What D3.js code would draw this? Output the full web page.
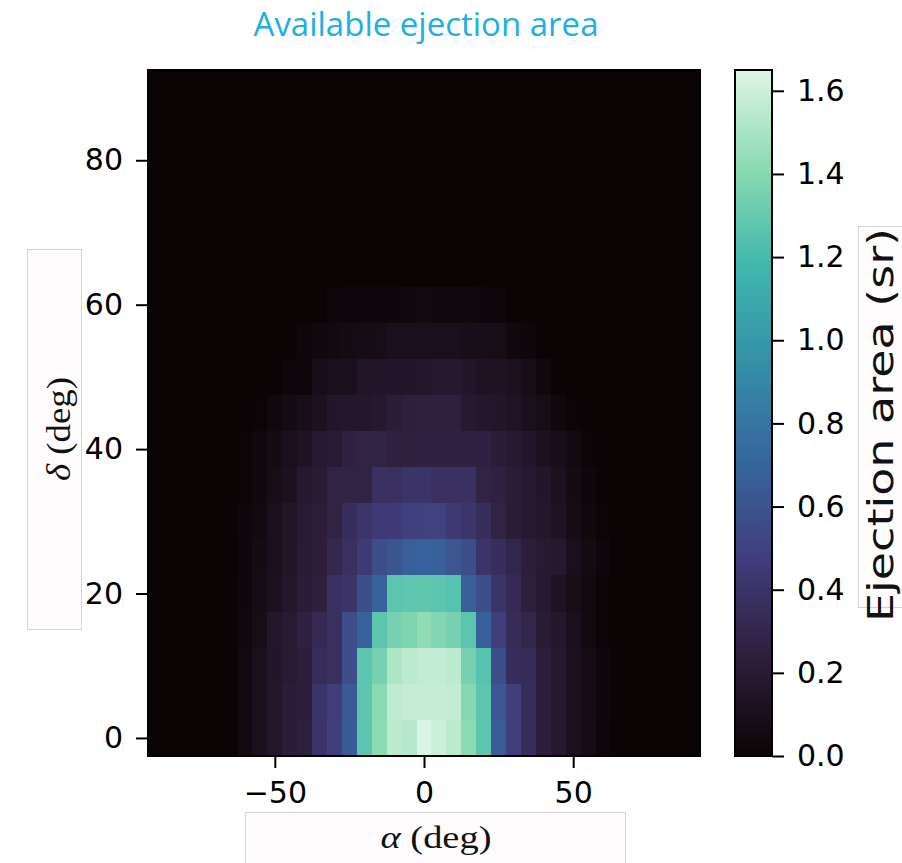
<!DOCTYPE html>
<html>
<head>
<meta charset="utf-8">
<script src="https://d3js.org/d3.v7.min.js"></script>
<style>
  body { margin: 0; background: #ffffff; }
</style>
</head>
<body>
<script>
// Available ejection area as a heatmap over alpha (x) and delta (y)

var alphaDeg = [-90, -85, -80, -75, -70, -65, -60, -55, -50, -45, -40, -35, -30, -25, -20, -15, -10, -5, 0,
                5, 10, 15, 20, 25, 30, 35, 40, 45, 50, 55, 60, 65, 70, 75, 80, 85, 90];
var deltaDeg = [0, 5, 10, 15, 20, 25, 30, 35, 40, 45, 50, 55, 60, 65, 70, 75, 80, 85, 90];

// ejection area (sr), one array per delta row, one value per alpha column
var area0  = [0,0,0,0,0,0,0.05,0.10,0.17,0.22,0.24,0.40,0.48,0.65,1.27,1.42,1.55,1.54,1.64,1.60,1.55,1.42,1.27,0.66,0.48,0.35,0.23,0.18,0.12,0.07,0.02,0,0,0,0,0,0];
var area5  = [0,0,0,0,0,0,0.05,0.10,0.17,0.22,0.23,0.40,0.47,0.64,1.27,1.41,1.56,1.58,1.58,1.58,1.57,1.40,1.27,0.62,0.48,0.35,0.23,0.18,0.12,0.07,0.03,0,0,0,0,0,0];
var area10 = [0,0,0,0,0,0,0.05,0.10,0.16,0.20,0.23,0.35,0.37,0.57,1.27,1.35,1.51,1.55,1.57,1.57,1.55,1.35,1.25,0.58,0.36,0.34,0.23,0.18,0.12,0.07,0.03,0,0,0,0,0,0];
var area15 = [0,0,0,0,0,0,0.04,0.08,0.17,0.20,0.26,0.33,0.37,0.57,0.69,1.27,1.35,1.38,1.43,1.39,1.35,1.27,0.68,0.48,0.34,0.30,0.21,0.17,0.10,0.05,0.01,0,0,0,0,0,0];
var area20 = [0,0,0,0,0,0,0.03,0.07,0.12,0.17,0.22,0.24,0.38,0.40,0.57,0.69,1.27,1.28,1.28,1.27,1.25,0.67,0.57,0.40,0.33,0.24,0.19,0.13,0.08,0.05,0.01,0,0,0,0,0,0];
var area25 = [0,0,0,0,0,0,0.02,0.06,0.10,0.15,0.21,0.23,0.31,0.37,0.45,0.57,0.61,0.67,0.69,0.68,0.62,0.57,0.40,0.36,0.30,0.23,0.20,0.18,0.10,0.06,0.02,0,0,0,0,0,0];
var area30 = [0,0,0,0,0,0,0.03,0.05,0.10,0.15,0.20,0.23,0.27,0.36,0.41,0.45,0.46,0.49,0.50,0.50,0.44,0.41,0.36,0.27,0.22,0.19,0.17,0.13,0.07,0.04,0.01,0,0,0,0,0,0];
var area35 = [0,0,0,0,0,0,0.01,0.04,0.08,0.12,0.18,0.21,0.27,0.27,0.27,0.38,0.37,0.40,0.40,0.38,0.38,0.38,0.27,0.26,0.22,0.19,0.16,0.12,0.06,0.03,0,0,0,0,0,0,0];
var area40 = [0,0,0,0,0,0,0.01,0.04,0.06,0.10,0.13,0.19,0.20,0.26,0.27,0.27,0.25,0.25,0.26,0.26,0.26,0.26,0.26,0.22,0.19,0.16,0.12,0.09,0.05,0.01,0,0,0,0,0,0,0];
var area45 = [0,0,0,0,0,0,0,0.01,0.04,0.06,0.09,0.12,0.16,0.17,0.17,0.18,0.22,0.24,0.25,0.25,0.25,0.19,0.17,0.16,0.14,0.10,0.08,0.04,0.01,0,0,0,0,0,0,0,0];
var area50 = [0,0,0,0,0,0,0,0,0,0.02,0.02,0.09,0.10,0.10,0.15,0.15,0.16,0.16,0.17,0.18,0.18,0.16,0.13,0.13,0.12,0.08,0.04,0,0,0,0,0,0,0,0,0,0];
var area55 = [0,0,0,0,0,0,0,0,0,0,0.02,0.04,0.05,0.06,0.07,0.08,0.10,0.10,0.10,0.10,0.10,0.09,0.09,0.08,0.04,0.03,0,0,0,0,0,0,0,0,0,0,0];
var area60 = [0,0,0,0,0,0,0,0,0,0,0,0,0.02,0.03,0.03,0.03,0.03,0.04,0.05,0.04,0.04,0.04,0.03,0.02,0,0,0,0,0,0,0,0,0,0,0,0,0];
var emptyRow = [0,0,0,0,0,0,0,0,0,0,0,0,0,0,0,0,0,0,0,0,0,0,0,0,0,0,0,0,0,0,0,0,0,0,0,0,0];

var areaRows = [area0, area5, area10, area15, area20, area25, area30, area35, area40, area45, area50,
                area55, area60, emptyRow, emptyRow, emptyRow, emptyRow, emptyRow, emptyRow];

var alphaTicks = [-50, 0, 50];
var deltaTicks = [0, 20, 40, 60, 80];
var colourTicks = [0, 0.2, 0.4, 0.6, 0.8, 1.0, 1.2, 1.4, 1.6];
var colourMax = 1.65;

// layout
var width = 902, height = 863;
var plot = {left: 148, right: 700, top: 70, bottom: 756};
var bar = {left: 735, right: 772};
var tickFont = "DejaVu Sans";

var svg = d3.select("body")
            .append("svg")
            .attr("width", width)
            .attr("height", height);

// mako colour map
var makoStops = [0, 1/7, 2/7, 3/7, 4/7, 5/7, 6/7, 1];
var makoColours = ["#0b0405", "#2e1e3b", "#413d7b", "#37659e", "#348fa7", "#40b7ad", "#8bdab2", "#def5e5"];
var colour = d3.scaleLinear()
               .domain(makoStops.map(s => s * colourMax))
               .range(makoColours)
               .interpolate(d3.interpolateRgb)
               .clamp(true);

var xScale = d3.scaleLinear().domain([-92.5, 92.5]).range([plot.left, plot.right]);
var yScale = d3.scaleLinear().domain([-2.5, 92.5]).range([plot.bottom, plot.top]);

// turn the rows into cells
var cells = [];
areaRows.forEach(function(row, r) {
  row.forEach(function(v, c) {
    cells.push({alpha: alphaDeg[c], delta: deltaDeg[r], value: v});
  });
});

// background first so rounding never shows white
svg.append("rect")
   .attr("x", plot.left).attr("y", plot.top)
   .attr("width", plot.right - plot.left).attr("height", plot.bottom - plot.top)
   .attr("fill", colour(0));

svg.append("g")
   .attr("shape-rendering", "crispEdges")
   .selectAll("rect")
   .data(cells)
   .enter()
   .append("rect")
     .attr("x", d => Math.round(xScale(d.alpha - 2.5)))
     .attr("y", d => Math.round(yScale(d.delta + 2.5)))
     .attr("width", d => Math.round(xScale(d.alpha + 2.5)) - Math.round(xScale(d.alpha - 2.5)))
     .attr("height", d => Math.round(yScale(d.delta - 2.5)) - Math.round(yScale(d.delta + 2.5)))
     .attr("fill", d => colour(d.value));

// frame
svg.append("rect")
   .attr("x", plot.left)
   .attr("y", plot.top)
   .attr("width", plot.right - plot.left)
   .attr("height", plot.bottom - plot.top)
   .attr("fill", "none")
   .attr("stroke", "#000")
   .attr("stroke-width", 2);

function styleAxis(g) {
  g.attr("font-family", tickFont).attr("font-size", 30);
  g.select(".domain").remove();
  g.selectAll(".tick line").attr("stroke", "#000").attr("stroke-width", 2);
  g.selectAll(".tick text").attr("fill", "#000");
}

svg.append("g")
   .attr("transform", "translate(0," + plot.bottom + ")")
   .call(d3.axisBottom(xScale).tickValues(alphaTicks).tickSize(12).tickPadding(14))
   .call(styleAxis);

svg.append("g")
   .attr("transform", "translate(" + plot.left + ",0)")
   .call(d3.axisLeft(yScale).tickValues(deltaTicks).tickSize(12).tickPadding(13))
   .call(styleAxis);

// colour bar
var barScale = d3.scaleLinear().domain([0, colourMax]).range([plot.bottom, plot.top]);

var grad = svg.append("defs")
              .append("linearGradient")
              .attr("id", "mako")
              .attr("x1", 0).attr("y1", 1)
              .attr("x2", 0).attr("y2", 0);
grad.selectAll("stop")
    .data(makoStops)
    .enter()
    .append("stop")
      .attr("offset", d => d)
      .attr("stop-color", (d, i) => makoColours[i]);

svg.append("rect")
   .attr("x", bar.left)
   .attr("y", plot.top)
   .attr("width", bar.right - bar.left)
   .attr("height", plot.bottom - plot.top)
   .attr("fill", "url(#mako)")
   .attr("stroke", "#000")
   .attr("stroke-width", 2);

svg.append("g")
   .attr("transform", "translate(" + bar.right + ",0)")
   .call(d3.axisRight(barScale).tickValues(colourTicks).tickFormat(d3.format(".1f")).tickSize(12).tickPadding(13))
   .call(styleAxis);

// title
svg.append("text")
   .attr("x", 426)
   .attr("y", 36)
   .attr("text-anchor", "middle")
   .attr("font-family", "Open Sans")
   .attr("font-size", 33)
   .attr("fill", "#21aee6")
   .text("Available ejection area");

// pasted label boxes
var boxFill = "#fffcfd", boxStroke = "#d4d4d4";

svg.append("rect")
   .attr("x", 27.5).attr("y", 249.5).attr("width", 54).attr("height", 380)
   .attr("fill", boxFill).attr("stroke", boxStroke).attr("stroke-width", 1);

svg.append("rect")
   .attr("x", 245.5).attr("y", 812.5).attr("width", 380).attr("height", 60)
   .attr("fill", boxFill).attr("stroke", boxStroke).attr("stroke-width", 1);

svg.append("rect")
   .attr("x", 858.5).attr("y", 226.5).attr("width", 60).attr("height", 381)
   .attr("fill", boxFill).attr("stroke", boxStroke).attr("stroke-width", 1);

var deltaLabel = svg.append("text")
   .attr("transform", "translate(70,429) rotate(-90)")
   .attr("text-anchor", "middle")
   .attr("font-family", "Liberation Serif")
   .attr("font-size", 33)
   .attr("fill", "#111")
   .attr("textLength", 104)
   .attr("lengthAdjust", "spacingAndGlyphs");
deltaLabel.append("tspan").attr("font-style", "italic").text("δ");
deltaLabel.append("tspan").text(" (deg)");

var alphaLabel = svg.append("text")
   .attr("x", 436)
   .attr("y", 848)
   .attr("text-anchor", "middle")
   .attr("font-family", "Liberation Serif")
   .attr("font-size", 31)
   .attr("fill", "#111")
   .attr("textLength", 111)
   .attr("lengthAdjust", "spacingAndGlyphs");
alphaLabel.append("tspan").attr("font-style", "italic").text("α");
alphaLabel.append("tspan").text(" (deg)");

svg.append("text")
   .attr("transform", "translate(893,425) rotate(-90)")
   .attr("text-anchor", "middle")
   .attr("font-family", "DejaVu Sans")
   .attr("font-size", 35)
   .attr("fill", "#111")
   .attr("textLength", 394)
   .attr("lengthAdjust", "spacingAndGlyphs")
   .text("Ejection area (sr)");
</script>
</body>
</html>
